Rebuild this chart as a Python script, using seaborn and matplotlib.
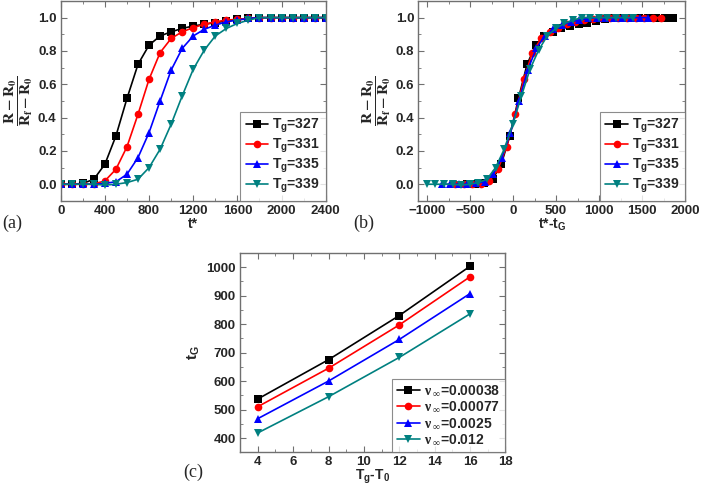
import numpy as np
import pandas as pd
import matplotlib
matplotlib.use("Agg")
import matplotlib.pyplot as plt
from matplotlib.ticker import MultipleLocator
import seaborn as sns

# ---------------- data ----------------
t_star = [0, 100, 200, 300, 400, 500, 600, 700, 800, 900, 1000, 1100, 1200,
          1300, 1400, 1500, 1600, 1700, 1800, 1900, 2000, 2100, 2200, 2300, 2400]
tg_labels = ["T$_\\mathbf{g}$=327", "T$_\\mathbf{g}$=331", "T$_\\mathbf{g}$=335", "T$_\\mathbf{g}$=339"]
r_327 = [0, 0, 0.005, 0.03, 0.12, 0.29, 0.515, 0.72, 0.835, 0.89, 0.915, 0.935, 0.95,
         0.96, 0.97, 0.98, 0.99, 0.995, 1.0, 1.0, 1.0, 1.0, 1.0, 1.0, 1.0]
r_331 = [0, 0, 0, 0.002, 0.02, 0.09, 0.225, 0.42, 0.63, 0.79, 0.875, 0.915, 0.94,
         0.96, 0.975, 0.985, 0.99, 0.995, 1.0, 1.0, 1.0, 1.0, 1.0, 1.0, 1.0]
r_335 = [0, 0, 0, 0, 0.005, 0.015, 0.06, 0.16, 0.31, 0.50, 0.685, 0.815, 0.89,
         0.93, 0.955, 0.975, 0.985, 0.995, 1.0, 1.0, 1.0, 1.0, 1.0, 1.0, 1.0]
r_339 = [0, 0, 0, 0, -0.005, 0.0, 0.01, 0.03, 0.10, 0.21, 0.36, 0.53, 0.69,
         0.805, 0.89, 0.935, 0.965, 0.985, 1.0, 1.0, 1.0, 1.0, 1.0, 1.0, 1.0]
r_series = [r_327, r_331, r_335, r_339]

# tG for each Tg (nu = 0.00038), used for panel (b) shift
tg_shift = [537, 675, 830, 1003]

dT = [4, 8, 12, 16]
nu_values = ["0.00038", "0.00077", "0.0025", "0.012"]
tG_00038 = [537, 675, 830, 1003]
tG_00077 = [510, 645, 797, 966]
tG_0025 = [468, 600, 746, 907]
tG_012 = [418, 545, 683, 836]
tG_series = [tG_00038, tG_00077, tG_0025, tG_012]

colors = ["#000000", "#FF0000", "#0000FF", "#008080"]
markers = ["s", "o", "^", "v"]

# ---------------- style ----------------
sns.set_style("ticks")
plt.rcParams["font.family"] = ["Liberation Sans", "DejaVu Sans"]
plt.rcParams["font.weight"] = "bold"
plt.rcParams["mathtext.fontset"] = "custom"
plt.rcParams["mathtext.rm"] = "Liberation Serif"
plt.rcParams["mathtext.bf"] = "Liberation Sans:bold"
plt.rcParams["mathtext.it"] = "Liberation Serif:italic"
plt.rcParams["axes.labelweight"] = "bold"

fig = plt.figure(figsize=(7.02, 4.90), dpi=100)
ax_a = fig.add_axes([0.0865, 0.590, 0.3775, 0.408])
ax_b = fig.add_axes([0.596, 0.590, 0.380, 0.408])
ax_c = fig.add_axes([0.342, 0.077, 0.378, 0.407])

frame_color = "#707070"
TICK = 9.5
LEG = 10


def style_axes(ax, xmaj, xmin, ymaj, ymin):
    ax.xaxis.set_major_locator(MultipleLocator(xmaj))
    ax.xaxis.set_minor_locator(MultipleLocator(xmin))
    ax.yaxis.set_major_locator(MultipleLocator(ymaj))
    ax.yaxis.set_minor_locator(MultipleLocator(ymin))
    ax.tick_params(which="both", direction="in", top=True, right=True,
                   color=frame_color, labelsize=TICK, pad=3)
    ax.tick_params(which="major", length=4, width=0.8)
    ax.tick_params(which="minor", length=2, width=0.6)
    for s in ax.spines.values():
        s.set_color(frame_color)
        s.set_linewidth(1.0)
    for lab in ax.get_xticklabels() + ax.get_yticklabels():
        lab.set_fontweight("bold")


def make_legend(ax, labels=None):
    handles, labs = ax.get_legend_handles_labels()
    if labels is None:
        labels = labs
    leg = ax.legend(handles, labels, loc="lower right", frameon=True, fancybox=False,
                    borderaxespad=0.0, handlelength=1.6,
                    labelspacing=0.15, borderpad=0.4, handletextpad=0.3,
                    prop={"weight": "bold", "size": LEG})
    leg.get_frame().set_edgecolor(frame_color)
    leg.get_frame().set_linewidth(0.8)
    return leg


ylab = r"$\mathbf{\dfrac{R - R_0}{R_f - R_0}}$"

# ---------- panel (a) ----------
rows = []
for lab, ys in zip(tg_labels, r_series):
    for x, y in zip(t_star, ys):
        rows.append({"t": x, "r": y, "Tg": lab})
df_a = pd.DataFrame(rows)
sns.lineplot(data=df_a, x="t", y="r", hue="Tg", style="Tg", ax=ax_a,
             palette=colors, markers=markers, dashes=False, markersize=5.5,
             markeredgewidth=0, linewidth=1.2, sort=False)
ax_a.set_xlim(0, 2400)
ax_a.set_ylim(-0.1, 1.1)
style_axes(ax_a, 400, 200, 0.2, 0.1)
ax_a.set_xlabel("t*", fontsize=10, fontweight="bold", labelpad=0)
ax_a.set_ylabel(ylab, fontsize=11, labelpad=2, math_fontfamily="stix")
make_legend(ax_a)

# ---------- panel (b) ----------
rows = []
for lab, ys, sh in zip(tg_labels, r_series, tg_shift):
    for x, y in zip(t_star, ys):
        rows.append({"t": x - sh, "r": y, "Tg": lab})
df_b = pd.DataFrame(rows)
sns.lineplot(data=df_b, x="t", y="r", hue="Tg", style="Tg", ax=ax_b,
             palette=colors, markers=markers, dashes=False, markersize=5.5,
             markeredgewidth=0, linewidth=1.2, sort=False)
ax_b.set_xlim(-1100, 2000)
ax_b.set_ylim(-0.1, 1.1)
style_axes(ax_b, 500, 250, 0.2, 0.1)
ax_b.set_xlabel("t*-t$_\\mathbf{G}$", fontsize=10, fontweight="bold", labelpad=0)
ax_b.set_ylabel(ylab, fontsize=11, labelpad=2, math_fontfamily="stix")
make_legend(ax_b)

# ---------- panel (c) ----------
rows = []
for lab, ys in zip(nu_values, tG_series):
    for x, y in zip(dT, ys):
        rows.append({"dT": x, "tG": y, "nu": lab})
df_c = pd.DataFrame(rows)
sns.lineplot(data=df_c, x="dT", y="tG", hue="nu", style="nu", ax=ax_c,
             palette=colors, markers=markers, dashes=False, markersize=5.5,
             markeredgewidth=0, linewidth=1.2, sort=False)
ax_c.set_xlim(3, 18)
ax_c.set_ylim(350, 1050)
style_axes(ax_c, 2, 1, 100, 50)
ax_c.set_xlabel("T$_\\mathbf{g}$-T$_\\mathbf{0}$", fontsize=10, fontweight="bold", labelpad=0)
ax_c.set_ylabel("t$_\\mathbf{G}$", fontsize=11, fontweight="bold", labelpad=3)
make_legend(ax_c, [r"$\mathrm{\nu}_{\ \mathrm{\infty}}$" + "=" + v for v in nu_values])

# panel letters
fig.text(0.003, 0.535, "(a)", fontsize=13, family="Liberation Serif", fontweight="normal")
fig.text(0.503, 0.535, "(b)", fontsize=13, family="Liberation Serif", fontweight="normal")
fig.text(0.261, 0.027, "(c)", fontsize=13, family="Liberation Serif", fontweight="normal")

fig.savefig("out.png", dpi=100)
